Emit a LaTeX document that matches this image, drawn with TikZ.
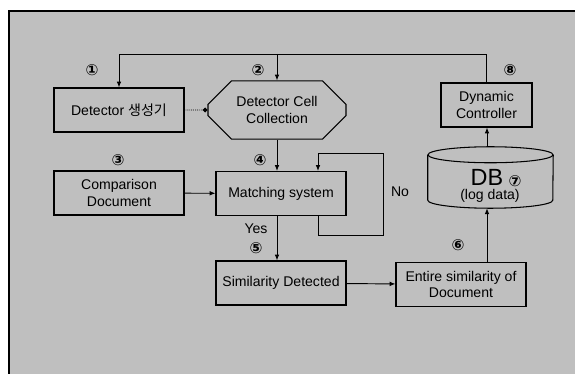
\documentclass[tikz,border=0pt]{standalone}
\usepackage{fontspec}
\setmainfont{Liberation Sans}
\newfontfamily\krfont{Noto Sans CJK KR}
\newfontfamily\symfont{DejaVu Sans}
\usepackage{tikz}
\usetikzlibrary{shapes.geometric}
\usetikzlibrary{shapes.misc}
\usetikzlibrary{arrows.meta}
\tikzstyle{block}=[draw, line width=0.9pt, inner sep=2pt, align=center, font=\fontsize{12}{14}\selectfont]
\tikzstyle{sbox}=[block, minimum width=3.9cm, minimum height=1.32cm]
\tikzstyle{num}=[inner sep=0pt, font=\symfont\bfseries\fontsize{13}{13}\selectfont]
\tikzstyle{flow}=[line width=0.8pt, -{Latex[length=5pt,width=4pt]}]
\tikzstyle{lbl}=[inner sep=0pt, font=\fontsize{12}{14}\selectfont]

\begin{document}
\begin{tikzpicture}[x=0.03cm, y=-0.03cm]
        \useasboundingbox (0,0) rectangle (575,374);
        \fill[black!25] (9,11) rectangle (575,374);
        \draw[line width=0.9pt] (9,374) -- (9,11) -- (575,11);
        % boxes
        \node[sbox] (gen) at (119,110) {Detector {\krfont 생성기}};
        \node[block, chamfered rectangle, chamfered rectangle xsep=0.3cm,
              chamfered rectangle ysep=0.4cm, minimum width=4.14cm,
              minimum height=1.38cm] (cell) at (277,110) {Detector Cell\\Collection};
        \node[sbox] (cmp) at (119,193) {Comparison\\Document};
        \node[sbox] (match) at (281,193.5) {Matching system};
        \node[sbox] (sim) at (281,283) {Similarity Detected};
        \node[sbox] (ent) at (461,284.5) {Entire similarity of\\Document};
        \node[block, minimum width=2.73cm, minimum height=1.32cm] (dyn) at (486.5,105) {Dynamic\\Controller};
        % DB cylinder
        \node[minimum width=3.75cm, minimum height=1.83cm, inner sep=0pt] (db) at (490.5,177.5) {};
        \draw[line width=0.9pt] ([yshift=-0.24cm]db.north) ellipse [x radius=1.875cm, y radius=0.24cm];
        \draw[line width=0.9pt] ([yshift=-0.24cm]db.north west) -- ([yshift=0.24cm]db.south west)
              arc[start angle=180, end angle=360, x radius=1.875cm, y radius=0.24cm]
              -- ([yshift=-0.24cm]db.north east);
        \node[inner sep=0pt, font=\fontsize{20}{20}\selectfont] (dbt) at (487,177) {DB};
        \node[lbl] (dbl) at (490,196) {(log data)};
        % numbers
        \node[num] (n1) at (92,70) {①};
        \node[num] (n2) at (258,70) {②};
        \node[num] (n3) at (118,160) {③};
        \node[num] (n4) at (260,160) {④};
        \node[num] (n5) at (256,248) {⑤};
        \node[num] (n6) at (458,245) {⑥};
        \node[num] (n7) at (515,181) {⑦};
        \node[num] (n8) at (510,70) {⑧};
        \node[lbl] (yes) at (256,229) {Yes};
        \node[lbl] (no) at (400,192) {No};
        % connectors
        \coordinate (top) at (119,54);
        \coordinate (lx) at (318,0);
        \coordinate (lp1) at (383,235);
        \coordinate (lp2) at (383,153);
        \draw[flow] (dyn.north) |- (top) -- (gen.north);
        \draw[flow] (cell.north |- top) -- (cell.north);
        \draw[line width=0.8pt, densely dotted, -{Circle[length=4pt]}] (gen) -- (cell);
        \draw[flow] (cell.south) -- (cell.south |- match.north);
        \draw[flow] (cmp) -- (match);
        \draw[flow] (match.south -| lx) |- (lp1) -- (lp2) -| (match.north -| lx);
        \draw[flow] (match.south -| cell.south) -- (sim.north -| cell.south);
        \draw[flow] (sim) -- (ent);
        \draw[flow] (ent.north -| dbt) -- (db.south -| dbt);
        \draw[flow] (db.north -| dbt) -- (dyn.south -| dbt);
    \end{tikzpicture}
\end{document}
